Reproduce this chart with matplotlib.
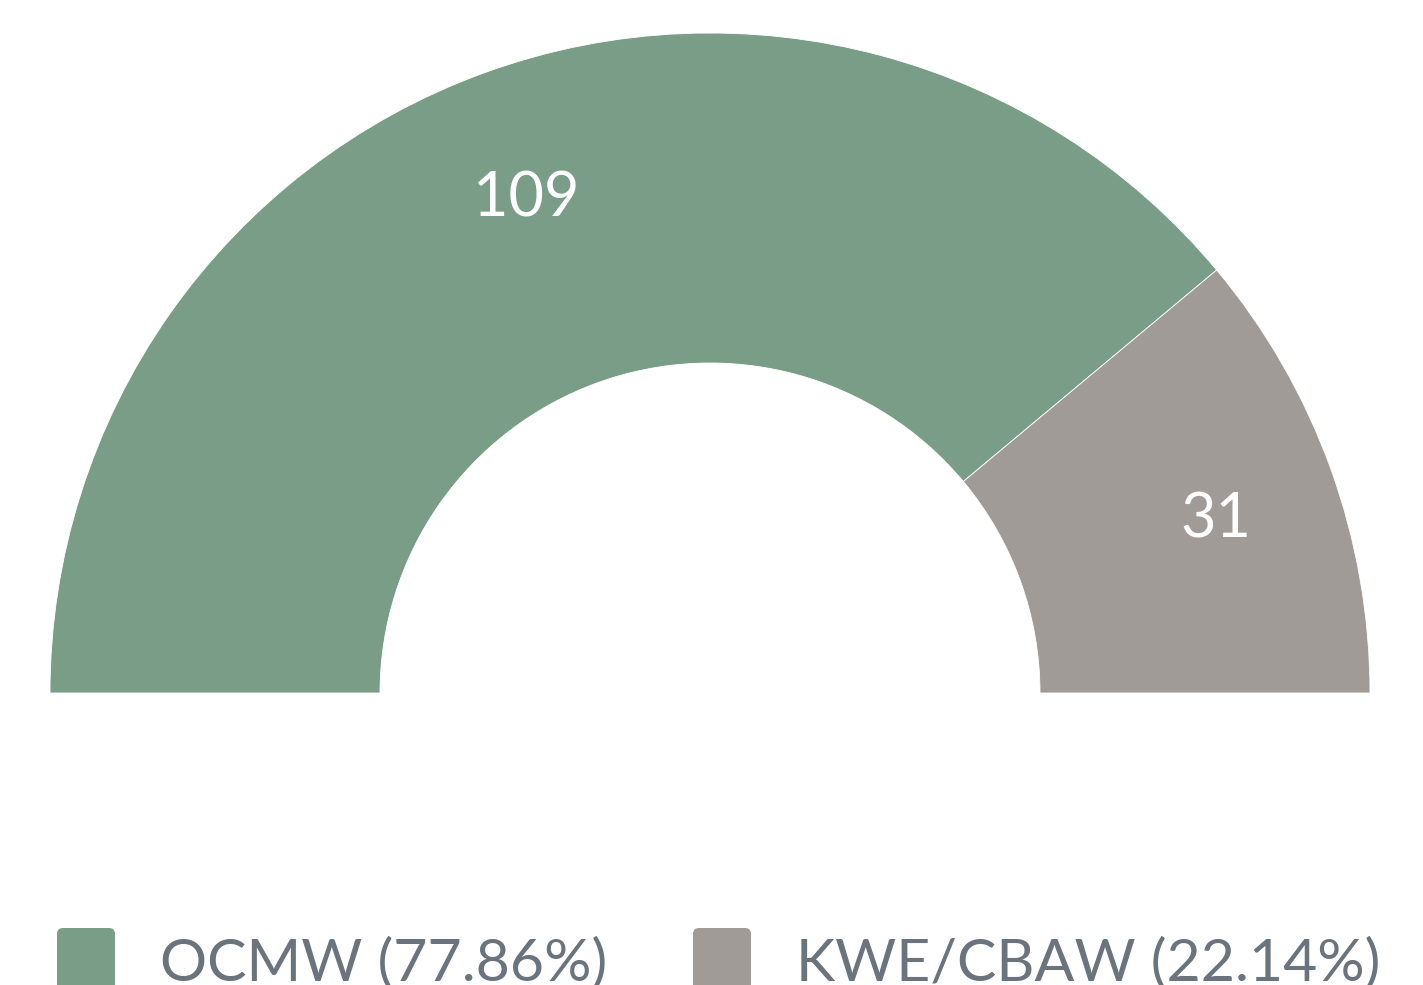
import numpy as np
import matplotlib.pyplot as plt
from matplotlib.patches import Wedge, FancyBboxPatch

plt.rcParams['font.family'] = ['Lato', 'DejaVu Sans']

labels = ['OCMW', 'KWE/CBAW']
values = [109, 31]
colors = ['#7a9d87', '#a19b98']

W, H = 1423, 985
fig = plt.figure(figsize=(W / 100, H / 100), dpi=100)
ax = fig.add_axes([0, 0, 1, 1])
ax.set_xlim(0, W)
ax.set_ylim(0, H)
ax.set_aspect('equal')
ax.axis('off')

# half donut geometry (pixels, y up)
cx, cy = 710, H - 693
r_out, r_in = 660, 330

total = sum(values)
start = 180.0
for v, c in zip(values, colors):
    span = 180.0 * v / total
    end = start - span
    ax.add_patch(Wedge((cx, cy), r_out, end, start, width=r_out - r_in,
                       facecolor=c, edgecolor='white', linewidth=0.6))
    mid = np.radians((start + end) / 2)
    ax.text(cx + 538 * np.cos(mid), cy + 535 * np.sin(mid) - 9, str(v),
            color='white', fontsize=44, ha='center', va='center')
    start = end

# legend
leg_x = [57, 693]
for x0, lbl, v, c in zip(leg_x, labels, values, colors):
    ax.add_patch(FancyBboxPatch((x0, H - 928 - 75), 58, 75,
                                boxstyle='round,pad=0,rounding_size=6',
                                facecolor=c, edgecolor='none'))
    pct = 100 * v / total
    ax.text(x0 + 103, H - 980, f'{lbl} ({pct:.2f}%)', color='#6b737c',
            fontsize=42.5, ha='left', va='baseline')

fig.savefig('out.png', dpi=100)
